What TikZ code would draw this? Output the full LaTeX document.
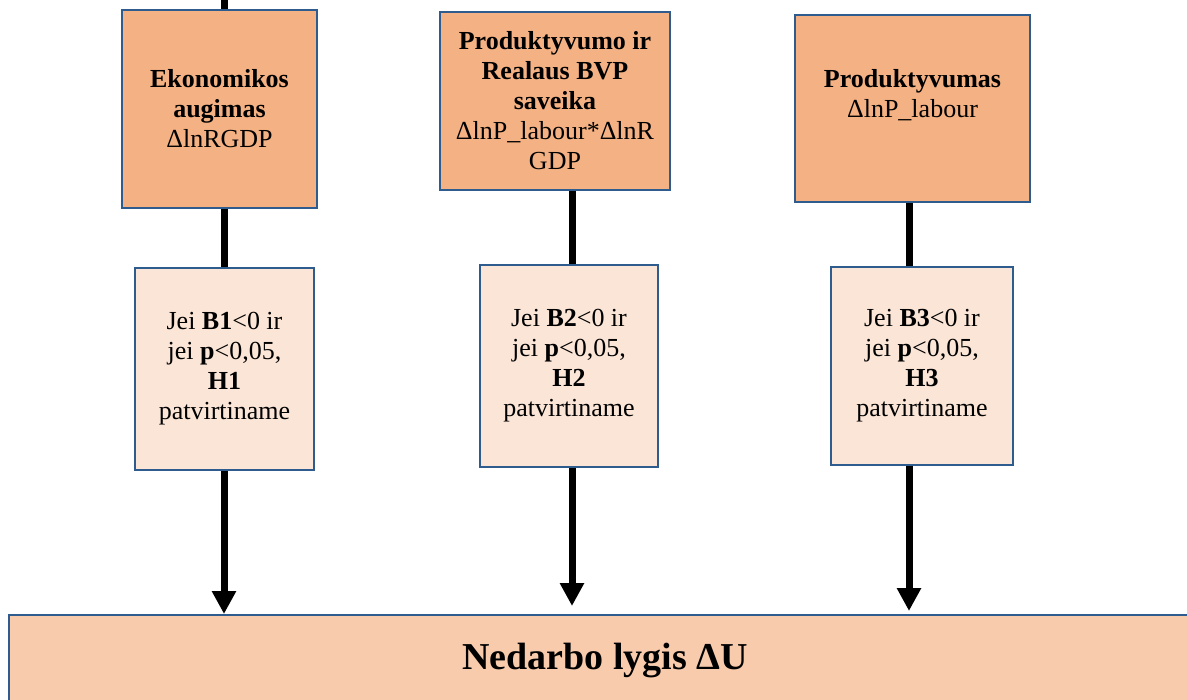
\documentclass[tikz,border=0pt]{standalone}
\usepackage{fontspec}
\setmainfont{Liberation Serif}
\usetikzlibrary{arrows.meta}
\definecolor{topfill}{HTML}{F4B183}
\definecolor{midfill}{HTML}{FBE5D6}
\definecolor{botfill}{HTML}{F8CBAD}
\definecolor{edgeblue}{HTML}{2F5C8F}
\begin{document}
\begin{tikzpicture}[x=1pt,y=-1pt,
  box/.style={draw=edgeblue, line width=2pt, align=center, inner sep=0pt,
    font=\fontsize{26}{30}\selectfont},
  topbox/.style={box, fill=topfill},
  hypbox/.style={box, fill=midfill},
  link/.style={line width=7pt, black},
  arrowlink/.style={link, -{Triangle[length=23pt,width=23pt]}},
]
\useasboundingbox (0,0) rectangle (1187,700);

% columns
\coordinate (c1) at (224,0);
\coordinate (c2) at (572,0);
\coordinate (c3) at (909,0);

% bottom box
\node[box, fill=botfill, minimum width=1191pt, minimum height=106pt,
      font=\fontsize{38}{44}\selectfont\bfseries] (U) at (604.5,668) {};
\node[font=\fontsize{38}{44}\selectfont\bfseries] (Ut) at (605,661) {Nedarbo lygis ΔU};

% top boxes
\node[topbox, minimum width=195pt, minimum height=198pt] (A1) at (219.5,109)
  {\textbf{Ekonomikos}\\\textbf{augimas}\\ΔlnRGDP};
\node[topbox, minimum width=230pt, minimum height=178pt] (A2) at (555,101)
  {\textbf{Produktyvumo ir}\\\textbf{Realaus BVP}\\\textbf{saveika}\\ΔlnP\_labour*ΔlnR\\GDP};
\node[topbox, minimum width=235pt, minimum height=187pt] (A3) at (912.5,108.5)
  {\textbf{Produktyvumas}\\ΔlnP\_labour\\\mbox{}};

% hypothesis boxes
\node[hypbox, minimum width=179pt, minimum height=202pt] (B1) at (224.5,369)
  {Jei \textbf{B1}<0 ir\\jei \textbf{p}<0,05,\\\textbf{H1}\\patvirtiname};
\node[hypbox, minimum width=178pt, minimum height=202pt] (B2) at (569,366)
  {Jei \textbf{B2}<0 ir\\jei \textbf{p}<0,05,\\\textbf{H2}\\patvirtiname};
\node[hypbox, minimum width=182pt, minimum height=198pt] (B3) at (922,366)
  {Jei \textbf{B3}<0 ir\\jei \textbf{p}<0,05,\\\textbf{H3}\\patvirtiname};

% connectors
\draw[link] (c1) -- (c1 |- A1.north);
\draw[link] (c1 |- A1.south) -- (c1 |- B1.north);
\draw[link] (c2 |- A2.south) -- (c2 |- B2.north);
\draw[link] (c3 |- A3.south) -- (c3 |- B3.north);

\draw[arrowlink] (c1 |- B1.south) -- (c1 |- U.north);
\draw[arrowlink, shorten >=8pt] (c2 |- B2.south) -- (c2 |- U.north);
\draw[arrowlink, shorten >=3pt] (c3 |- B3.south) -- (c3 |- U.north);
\end{tikzpicture}
\end{document}
